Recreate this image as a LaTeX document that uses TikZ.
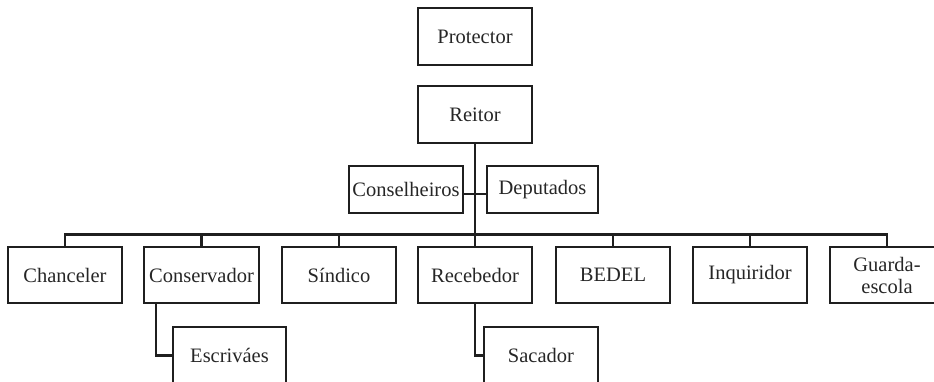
\documentclass[tikz,border=0pt]{standalone}
\usepackage{fontspec}
\setmainfont{Liberation Serif}
\usepackage{tikz}

\tikzset{
    orgbox/.style={draw=black!88, line width=2.4pt, minimum width=114pt, minimum height=56pt,
        inner sep=1pt, align=center, font=\fontsize{20.5}{22}\selectfont, text=black!85},
    smallbox/.style={orgbox, minimum height=47pt},
    orgline/.style={draw=black!88, line width=2.4pt}
}

\begin{document}
\begin{tikzpicture}[x=1pt, y=-1pt]
        \useasboundingbox (0,0) rectangle (934,382);
        % top
        \node[orgbox, minimum height=57pt] (protector) at (475,36.5) {Protector};
        \node[orgbox, minimum height=57pt] (reitor) at (475,114.5) {Reitor};
        \node[smallbox] (conselheiros) at (406,189.5) {Conselheiros};
        \node[smallbox, minimum width=111pt] (deputados) at (542.5,189.5) {Deputados};
        % bottom row
        \node[orgbox] (chanceler) at (65,275) {Chanceler};
        \node[orgbox, minimum width=115pt] (conservador) at (201.5,275) {Conservador};
        \node[orgbox] (sindico) at (339,275) {Síndico};
        \node[orgbox] (recebedor) at (475,275) {Recebedor};
        \node[orgbox] (bedel) at (613,275) {BEDEL};
        \node[orgbox] (inquiridor) at (750,275) {Inquiridor};
        \node[orgbox] (guarda) at (887,275) {Guarda-\\escola};
        \node[orgbox, minimum height=57pt, minimum width=113pt] (escrivaes) at (229.5,355.5) {Escriváes};
        \node[orgbox, minimum height=57pt] (sacador) at (541,355.5) {Sacador};
        % connectors
        \coordinate (bus) at (475,234.5);
        \draw[orgline] (reitor.south) -- (bus);
        \draw[orgline] (conselheiros.east |- 0,194) -- (deputados.west |- 0,194);
        \draw[orgline] (chanceler.north) |- (bus) -| (guarda.north);
        \foreach \n in {conservador, sindico, recebedor, bedel, inquiridor}
            \draw[orgline] (\n.north) -- (\n.north |- bus);
        \draw[orgline] (conservador.south -| 156,0) |- (escrivaes.west);
        \draw[orgline] (recebedor.south) |- (sacador.west);
    \end{tikzpicture}
\end{document}
